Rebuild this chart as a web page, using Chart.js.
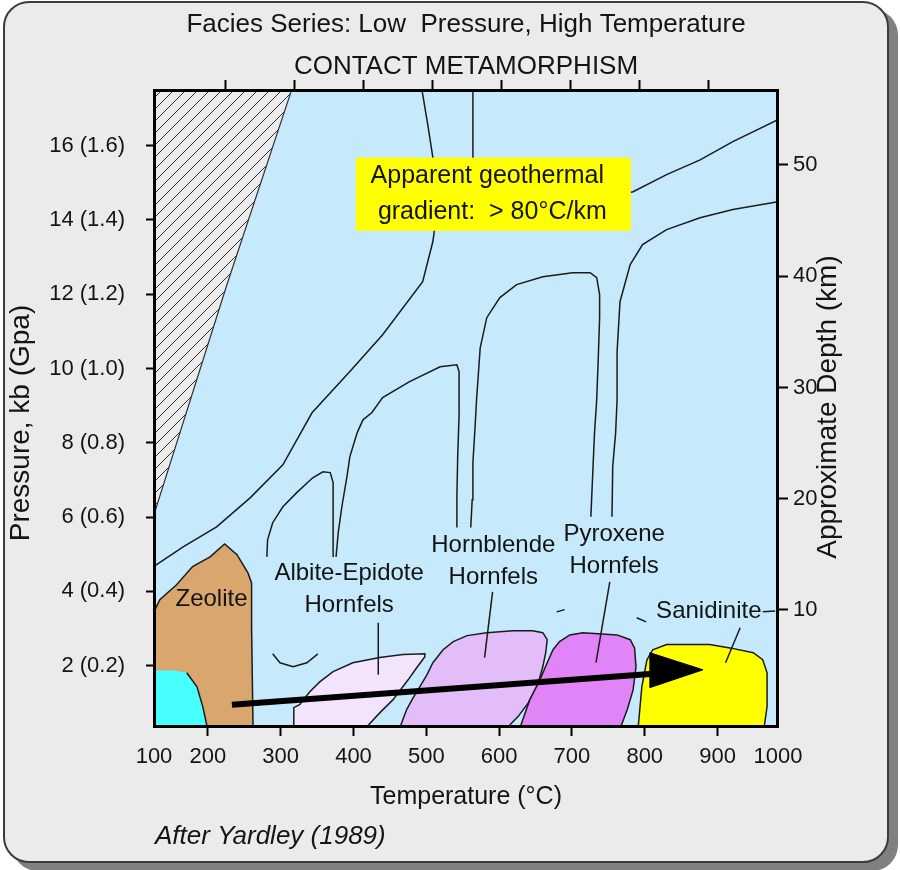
<!DOCTYPE html>
<html>
<head>
<meta charset="utf-8">
<script src="https://cdn.jsdelivr.net/npm/chart.js@4/dist/chart.umd.min.js"></script>
<style>
  html, body { margin: 0; padding: 0; background: #fff; }
  #wrap { position: relative; width: 900px; height: 870px; overflow: hidden; }
  #card {
    position: absolute; left: 3px; top: 1px; width: 882px; height: 858px;
    background: #ebebeb; border: 2px solid #3c3c3c; border-radius: 26px;
    box-shadow: 9px 8px 0 #808080;
  }
  #chart { position: absolute; left: 0; top: 0; }
</style>
</head>
<body>
<div id="wrap">
  <div id="card"></div>
  <canvas id="chart" width="900" height="870"></canvas>
</div>
<script>
document.addEventListener('DOMContentLoaded', () => {

  const T_MIN = 126, T_MAX = 983;          // °C
  const P_MIN = 0.35, P_MAX = 17.5;        // kb
  const DEPTH_MIN = -0.52, DEPTH_MAX = 56.74; // km (right axis)
  const TOP_MIN = -0.03, TOP_MAX = 9.01;   // unlabelled top axis

  const TEMP_TICKS = [200, 300, 400, 500, 600, 700, 800, 900];
  const PRESSURE_TICKS = [2, 4, 6, 8, 10, 12, 14, 16];
  const DEPTH_TICKS = [10, 20, 30, 40, 50];
  const TOP_TICKS = [1, 2, 3, 4, 5, 6, 7, 8];

  // [T °C, P kb]
  const HATCH = [[126, 17.5], [315, 17.5], [226, 12.25], [126, 6.07], [126, 17.5]];
  const ZEOLITE = [[126, 3.45], [134, 3.78], [157, 4.18], [179, 4.67], [203, 4.93], [223, 5.28], [240, 4.99],
    [255, 4.50], [260, 4.23], [260, 3.05], [262, 0.35], [126, 0.35], [126, 3.45]];
  const CYAN = [[126, 1.87], [155, 1.87], [171, 1.81], [185, 1.43], [193, 0.90], [199, 0.35], [126, 0.35], [126, 1.87]];
  const ALBITE_EPIDOTE = [[318, 0.35], [318, 0.87], [326, 0.95], [340, 1.30], [354, 1.57], [372, 1.84], [399, 2.08],
    [436, 2.22], [468, 2.30], [498, 2.32], [498, 2.24], [487, 1.95], [475, 1.62], [454, 1.08], [436, 0.73],
    [418, 0.35], [318, 0.35]];
  const HORNBLENDE = [[464, 0.35], [473, 0.82], [482, 1.14], [491, 1.43], [501, 1.76], [509, 2.08], [523, 2.43],
    [537, 2.65], [556, 2.81], [583, 2.89], [619, 2.94], [646, 2.94], [660, 2.89], [666, 2.70], [664, 2.35],
    [660, 1.97], [652, 1.43], [640, 1.00], [626, 0.63], [612, 0.35], [464, 0.35]];
  const PYROXENE = [[629, 0.35], [642, 1.08], [656, 1.62], [666, 2.08], [674, 2.43], [683, 2.65], [697, 2.83],
    [715, 2.89], [762, 2.83], [780, 2.70], [786, 2.48], [788, 1.97], [784, 1.35], [776, 0.82], [767, 0.35],
    [629, 0.35]];
  const SANIDINITE = [[791, 0.35], [796, 1.43], [803, 2.16], [811, 2.43], [830, 2.57], [889, 2.57], [917, 2.48],
    [949, 2.35], [962, 2.16], [968, 1.81], [968, 0.90], [964, 0.35], [791, 0.35]];

  // boundary curves
  const CURVE_A = [[127, 4.69], [166, 5.20], [212, 5.74], [258, 6.52], [303, 7.41], [343, 8.81], [395, 9.92],
    [440, 10.91], [495, 12.34], [509, 13.42], [514, 14.14], [509, 15.68], [502, 16.57], [494, 17.5]];
  const CURVE_B = [[281, 4.93], [282, 5.39], [289, 5.85], [303, 6.28], [322, 6.66], [344, 7.06], [358, 7.22],
    [368, 7.20], [372, 6.93], [372, 6.28], [372, 5.58], [372, 4.93]];
  const CURVE_C = [[376, 4.93], [379, 5.58], [384, 6.28], [391, 7.09], [395, 7.63], [405, 8.27], [413, 8.62],
    [425, 8.81], [440, 9.22], [477, 9.65], [519, 10.05], [542, 10.10], [545, 9.92], [545, 8.76], [543, 7.55],
    [542, 6.55], [542, 5.72]];
  const CURVE_D = [[561, 5.72], [563, 6.47], [564, 7.47], [567, 8.44], [569, 9.16], [574, 10.56], [583, 11.37],
    [601, 11.91], [624, 12.26], [660, 12.47], [701, 12.58], [725, 12.58], [734, 12.45], [738, 11.99],
    [738, 11.37], [736, 10.19], [734, 9.16], [731, 8.27], [727, 6.47], [726, 6.01]];
  const CURVE_E = [[755, 6.01], [756, 7.36], [760, 8.27], [762, 9.16], [762, 10.45], [766, 11.80], [780, 12.80],
    [797, 13.34], [830, 13.74], [876, 14.06], [921, 14.28], [983, 14.49]];
  const CURVE_F = [[738, 14.55], [784, 14.76], [830, 15.22], [876, 15.62], [921, 16.11], [983, 16.70]];
  const CURVE_VERT = [[564, 17.5], [564, 14.6]];
  const SMALL_ARC = [[289, 2.32], [299, 2.08], [317, 1.97], [336, 2.08], [351, 2.32]];
  const DASH_1 = [[679, 3.45], [690, 3.51]];
  const DASH_2 = [[789, 3.29], [802, 3.18]];

  // label leaders
  const LEADER_ALBITE = [[434, 3.16], [434, 1.76]];
  const LEADER_HORNBLENDE = [[591, 3.99], [580, 2.22]];
  const LEADER_PYROXENE = [[752, 4.26], [733, 2.08]];
  const LEADER_SANIDINITE = [[931, 3.02], [911, 2.08]];
  const SANIDINITE_TAIL = [[962, 3.45], [979, 3.47]];

  // heating path arrow
  const ARROW_SHAFT = [[233, 0.95], [807, 1.78]];
  const ARROW_HEAD = [[807, 2.35], [880, 1.89], [807, 1.41], [807, 2.35]];

  const FACIES_LABELS = [
    { lines: ['Zeolite'], at: [205, 3.78] },
    { lines: ['Albite-Epidote', 'Hornfels'], at: [394, 4.05] },
    { lines: ['Hornblende', 'Hornfels'], at: [592, 4.82] },
    { lines: ['Pyroxene', 'Hornfels'], at: [758, 5.11] },
    { lines: ['Sanidinite'], at: [888, 3.45] }
  ];
  const GRADIENT_NOTE = ['Apparent geothermal', 'gradient:  > 80°C/km'];
  const GRADIENT_BOX = { t0: 403, t1: 781, p0: 13.71, p1: 15.68 };

  const FONT = '"Liberation Sans", Arial, Helvetica, sans-serif';
  const TEXT = '#141414';
  const LINE = '#1b1b1b';
  const PLOT_BG = '#c6eafb';

  const canvas = document.getElementById('chart');
  const ctx2d = canvas.getContext('2d');

  function hatchPattern() {
    const c = document.createElement('canvas');
    c.width = 12; c.height = 12;
    const g = c.getContext('2d');
    g.fillStyle = '#ebebeb';
    g.fillRect(0, 0, 12, 12);
    g.strokeStyle = '#2e2e2e';
    g.lineWidth = 1;
    g.beginPath();
    g.moveTo(0, 12); g.lineTo(12, 0);
    g.moveTo(-3, 3); g.lineTo(3, -3);
    g.moveTo(9, 15); g.lineTo(15, 9);
    g.stroke();
    return ctx2d.createPattern(c, 'repeat');
  }

  const pts = arr => arr.map(([t, p]) => ({ x: t, y: p }));

  function region(data, fill, border = LINE, width = 1.5) {
    return { data: pts(data), showLine: true, fill: 'shape', backgroundColor: fill,
      borderColor: border, borderWidth: width, pointRadius: 0 };
  }

  function curve(data, width = 1.5, color = LINE) {
    return { data: pts(data), showLine: true, fill: false, borderColor: color,
      borderWidth: width, pointRadius: 0 };
  }

  // listed bottom to top
  const datasets = [
    region(HATCH, hatchPattern(), '#333', 1.2),
    curve(CURVE_A), curve(CURVE_B), curve(CURVE_C), curve(CURVE_D), curve(CURVE_E), curve(CURVE_F),
    curve(CURVE_VERT), curve(SMALL_ARC), curve(DASH_1), curve(DASH_2),
    region(ZEOLITE, '#d9a66e'),
    region(CYAN, '#48ffff', LINE, 0),
    curve(CYAN.slice(2, 6)),
    region(ALBITE_EPIDOTE, '#f4e4fb'),
    region(HORNBLENDE, '#e3bdfa'),
    region(PYROXENE, '#e084f8'),
    region(SANIDINITE, '#ffff00'),
    curve(LEADER_ALBITE), curve(LEADER_HORNBLENDE), curve(LEADER_PYROXENE),
    curve(LEADER_SANIDINITE), curve(SANIDINITE_TAIL),
    curve(ARROW_SHAFT, 6, '#000'),
    region(ARROW_HEAD, '#000', '#000', 1)
  ];
  datasets.forEach((d, i) => { d.order = datasets.length - i; });

  const decorations = {
    id: 'decorations',
    beforeDatasetsDraw(chart) {
      const { ctx, chartArea: a } = chart;
      ctx.save();
      ctx.fillStyle = PLOT_BG;
      ctx.fillRect(a.left, a.top, a.width, a.height);
      ctx.restore();
    },
    afterDatasetsDraw(chart) {
      const { ctx, chartArea: a, scales: { x, y } } = chart;
      ctx.save();
      ctx.beginPath();
      ctx.rect(a.left, a.top, a.width, a.height);
      ctx.clip();

      // geothermal gradient note
      const bx0 = x.getPixelForValue(GRADIENT_BOX.t0);
      const bx1 = x.getPixelForValue(GRADIENT_BOX.t1);
      const by0 = y.getPixelForValue(GRADIENT_BOX.p1);
      const by1 = y.getPixelForValue(GRADIENT_BOX.p0);
      ctx.fillStyle = '#ffff00';
      ctx.fillRect(bx0, by0, bx1 - bx0, by1 - by0);
      ctx.fillStyle = TEXT;
      ctx.font = `25px ${FONT}`;
      ctx.textAlign = 'center';
      ctx.textBaseline = 'middle';
      const cx = (bx0 + bx1) / 2 - 2;
      const cy = (by0 + by1) / 2;
      ctx.fillText(GRADIENT_NOTE[0], cx - 4, cy - 18);
      ctx.fillText(GRADIENT_NOTE[1], cx + 1, cy + 18);

      // facies names
      ctx.font = `24px ${FONT}`;
      FACIES_LABELS.forEach(({ lines, at }) => {
        const px = x.getPixelForValue(at[0]);
        const py = y.getPixelForValue(at[1]);
        const gap = 32;
        const start = py - (lines.length - 1) * gap / 2;
        lines.forEach((s, i) => ctx.fillText(s, px, start + i * gap));
      });
      ctx.restore();

      // plot frame
      ctx.save();
      ctx.strokeStyle = '#000';
      ctx.lineWidth = 3;
      ctx.strokeRect(a.left + 0.5, a.top + 0.5, a.width - 1, a.height - 1);
      ctx.restore();
    },
    afterDraw(chart) {
      const { ctx } = chart;
      ctx.save();
      ctx.fillStyle = TEXT;
      ctx.font = `28px ${FONT}`;
      ctx.textAlign = 'center';
      ctx.textBaseline = 'middle';
      [['Pressure, kb (Gpa)', 21, 423], ['Approximate Depth (km)', 828, 407]].forEach(([s, tx, ty]) => {
        ctx.save();
        ctx.translate(tx, ty);
        ctx.rotate(-Math.PI / 2);
        ctx.fillText(s, 0, 0);
        ctx.restore();
      });
      ctx.font = `italic 26px ${FONT}`;
      ctx.textAlign = 'left';
      ctx.fillText('After Yardley (1989)', 155, 837);
      ctx.restore();
    }
  };

  const tickFont = { family: FONT, size: 22 };
  const setTicks = values => scale => { scale.ticks = values.map(v => ({ value: v })); };

  new Chart(canvas, {
    type: 'scatter',
    data: { datasets },
    options: {
      responsive: false,
      animation: false,
      events: [],
      layout: { padding: 0 },
      plugins: {
        legend: { display: false },
        tooltip: { enabled: false },
        title: {
          display: true,
          fullSize: false,
          text: ['Facies Series: Low  Pressure, High Temperature', 'CONTACT METAMORPHISM'],
          color: TEXT,
          font: { family: FONT, size: 26, weight: 'normal', lineHeight: '42px' },
          padding: { top: 4, bottom: 0 }
        }
      },
      scales: {
        x: {
          type: 'linear', position: 'bottom', min: T_MIN, max: T_MAX,
          afterBuildTicks: setTicks([T_MIN, ...TEMP_TICKS, T_MAX]),
          afterFit: s => { s.height = 143; },
          ticks: {
            callback: v => (v === T_MIN ? '100' : v === T_MAX ? '1000' : String(v)),
            font: tickFont, color: TEXT, padding: 8, maxRotation: 0, autoSkip: false
          },
          grid: {
            drawOnChartArea: false, tickLength: 9, tickWidth: 2,
            tickColor: c => (c.tick && (c.tick.value === T_MIN || c.tick.value === T_MAX) ? 'rgba(0,0,0,0)' : '#000')
          },
          border: { display: false },
          title: {
            display: true, text: 'Temperature (°C)', color: TEXT,
            font: { family: FONT, size: 25 }, padding: { top: 0, bottom: 58 }
          }
        },
        x2: {
          type: 'linear', position: 'top', min: TOP_MIN, max: TOP_MAX,
          afterBuildTicks: setTicks(TOP_TICKS),
          afterFit: s => { s.height = 2; },
          ticks: { display: false },
          grid: { drawOnChartArea: false, tickLength: 10, tickWidth: 2, tickColor: '#000' },
          border: { display: false }
        },
        y: {
          type: 'linear', position: 'left', min: P_MIN, max: P_MAX,
          afterBuildTicks: setTicks(PRESSURE_TICKS),
          afterFit: s => { s.width = 154; },
          ticks: {
            callback: v => `${v} (${(v / 10).toFixed(1)})`,
            font: tickFont, color: TEXT, padding: 21
          },
          grid: { drawOnChartArea: false, tickLength: 8, tickWidth: 2, tickColor: '#000' },
          border: { display: false }
        },
        y2: {
          type: 'linear', position: 'right', min: DEPTH_MIN, max: DEPTH_MAX,
          afterBuildTicks: setTicks(DEPTH_TICKS),
          afterFit: s => { s.width = 122; },
          ticks: { font: tickFont, color: TEXT, padding: 5 },
          grid: { drawOnChartArea: false, tickLength: 10, tickWidth: 2, tickColor: '#000' },
          border: { display: false }
        }
      }
    },
    plugins: [decorations]
  });

});
</script>
</body>
</html>
